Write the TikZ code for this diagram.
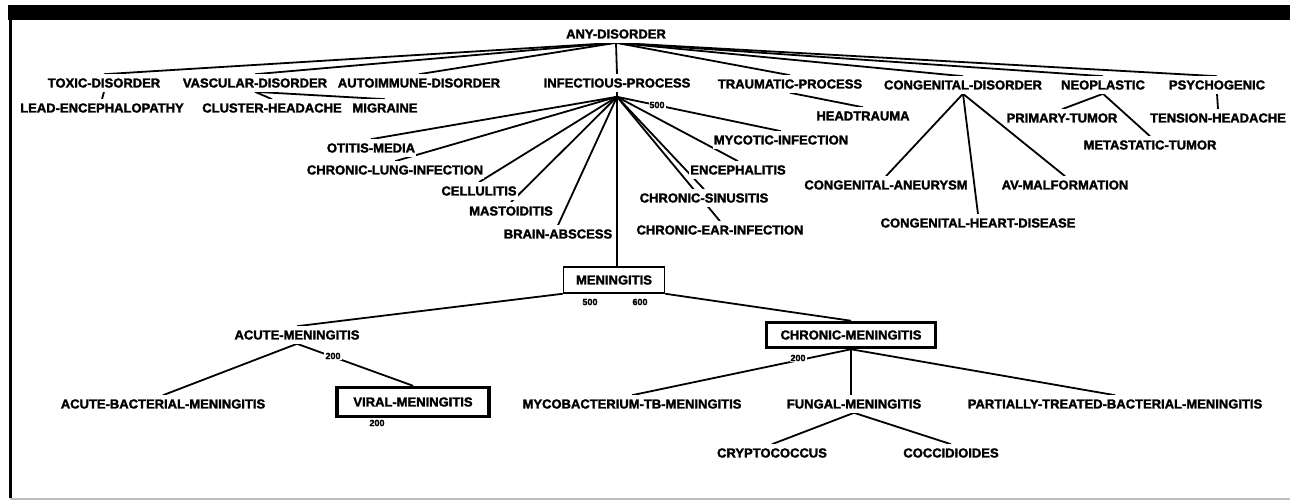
\documentclass[tikz,border=0pt]{standalone}
\usepackage{fontspec}
\setmainfont{Liberation Sans}[BoldFeatures={FakeBold=2}]
\usetikzlibrary{backgrounds}
\tikzstyle{term} = [font=\bfseries\fontsize{13}{15}\selectfont, fill=white,
inner xsep=1pt, inner ysep=4pt]
\tikzstyle{num} = [font=\bfseries\fontsize{9}{10}\selectfont, fill=white,
inner sep=1pt]
\tikzstyle{focus} = [term, draw=black, line width=1.5pt]
\tikzstyle{found} = [term, draw=black, line width=3.5pt]
\tikzstyle{link} = [line width=1.8pt]

\begin{document}
\begin{tikzpicture}[x=1pt, y=-1pt]
\useasboundingbox (0,0) rectangle (1290,501);

\node(any)[term] at (616,34){ANY-DISORDER};
\node(toxic)[term] at (104,83){TOXIC-DISORDER};
\node(vascular)[term] at (255,83){VASCULAR-DISORDER};
\node(autoimmune)[term] at (419,83){AUTOIMMUNE-DISORDER};
\node(infect)[term] at (617,83){INFECTIOUS-PROCESS};
\node(trauma)[term] at (790,84){TRAUMATIC-PROCESS};
\node(congenital)[term] at (963,85){CONGENITAL-DISORDER};
\node(neoplastic)[term] at (1103,85){NEOPLASTIC};
\node(psycho)[term] at (1217,85){PSYCHOGENIC};

\node(lead)[term] at (102,108){LEAD-ENCEPHALOPATHY};
\node(cluster)[term] at (272,108){CLUSTER-HEADACHE};
\node(migraine)[term] at (385,108){MIGRAINE};
\node(headtrauma)[term] at (863,116){HEADTRAUMA};
\node(primary)[term] at (1062,118){PRIMARY-TUMOR};
\node(tension)[term] at (1218,118){TENSION-HEADACHE};
\node(metastatic)[term] at (1150,145){METASTATIC-TUMOR};
\node(infectNum)[num] at (657,105){500};
\node(mycotic)[term] at (781,140){MYCOTIC-INFECTION};
\node(otitis)[term] at (371,148){OTITIS-MEDIA};
\node(lung)[term] at (395,170){CHRONIC-LUNG-INFECTION};
\node(cellulitis)[term] at (479,191){CELLULITIS};
\node(mastoiditis)[term] at (511,211){MASTOIDITIS};
\node(abscess)[term] at (558,234){BRAIN-ABSCESS};
\node(enceph)[term] at (738,170){ENCEPHALITIS};
\node(sinusitis)[term] at (704,198){CHRONIC-SINUSITIS};
\node(ear)[term] at (720,230){CHRONIC-EAR-INFECTION};
\node(aneurysm)[term] at (886,185){CONGENITAL-ANEURYSM};
\node(avm)[term] at (1065,185){AV-MALFORMATION};
\node(heart)[term] at (978,223){CONGENITAL-HEART-DISEASE};

\node(mening)[focus, minimum width=101pt, minimum height=26pt] at (614,280){MENINGITIS};
\node(meningNumA)[num] at (590,302){500};
\node(meningNumB)[num] at (640,302){600};
\node(acute)[term] at (297,335){ACUTE-MENINGITIS};
\node(acuteNum)[num] at (333,356){200};
\node(bacterial)[term] at (163,404){ACUTE-BACTERIAL-MENINGITIS};
\node(viral)[found, minimum width=152pt, minimum height=29pt] at (413,402){VIRAL-MENINGITIS};
\node(viralNum)[num] at (377,423){200};
\node(chronic)[found, minimum width=169pt, minimum height=25pt] at (851,335){CHRONIC-MENINGITIS};
\node(chronicNum)[num] at (798,358){200};
\node(myco)[term] at (632,404){MYCOBACTERIUM-TB-MENINGITIS};
\node(fungal)[term] at (854,404){FUNGAL-MENINGITIS};
\node(partial)[term] at (1115,404){PARTIALLY-TREATED-BACTERIAL-MENINGITIS};
\node(crypto)[term] at (772,453){CRYPTOCOCCUS};
\node(cocci)[term] at (951,453){COCCIDIOIDES};

\begin{scope}[on background layer]
\fill (8,5) rectangle (1290,20);
\draw[line width=3pt] (10,18) -- (10,498);
\draw[black!25, line width=1.5pt] (10,499) -- (1290,499);

\foreach \child in {toxic, vascular, autoimmune, infect, trauma, congenital, neoplastic, psycho}
  \draw[link](any.south) -- (\child.north);
\draw[link](toxic.south) -- (lead.north);
\draw[link](vascular.south) -- (cluster.north);
\draw[link](vascular.south) -- (migraine.north);
\draw[link](trauma.south) -- (headtrauma.north);
\draw[link](neoplastic.south) -- (primary.north);
\draw[link](neoplastic.south) -- (metastatic.north);
\draw[link](psycho.south) -- (tension.north);
\foreach \child in {aneurysm, heart, avm}
  \draw[link](congenital.south) -- (\child.north);
\foreach \child in {otitis, lung, cellulitis, mastoiditis, abscess, sinusitis, ear, enceph, mycotic}
  \draw[link]([yshift=-5pt]infect.south) -- (\child.north);
\draw[link](infect.south) -- (infect.south |- mening.north);

\draw[link](mening.south west) -- (acute.north);
\draw[link](mening.south east) -- (chronic.north);
\draw[link](acute.south) -- (bacterial.north);
\draw[link](acute.south) -- (viral.north);
\draw[link](chronic.south) -- (myco.north);
\draw[link](chronic.south) -- (chronic.south |- fungal.north);
\draw[link](chronic.south) -- (partial.north);
\draw[link](fungal.south) -- (crypto.north);
\draw[link](fungal.south) -- (cocci.north);
\end{scope}

\end{tikzpicture}
\end{document}
